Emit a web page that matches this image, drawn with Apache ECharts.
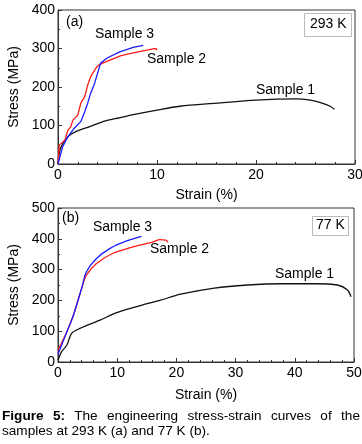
<!DOCTYPE html>
<html lang="en">
<head>
	<meta charset="UTF-8">
	<title>Stress-strain curves</title>
	<style type="text/css">
		body { margin: 0; background: #fff; }
		#main { position: absolute; left: 0; top: 0; width: 362px; height: 444px; }
		#caption {
			position: absolute; left: 2px; top: 409px; width: 358px;
			font-family: "Liberation Sans", Arial, sans-serif;
			font-size: 13.6px; line-height: 14.5px; color: #000;
			text-align: justify;
		}
	</style>
</head>
<body>
	<div id="main"></div>
	<div id="caption"><b>Figure 5:</b> The engineering stress-strain curves of the samples at 293 K (a) and 77 K (b).</div>
	<script type="text/javascript" src="https://cdn.jsdelivr.net/npm/echarts@6/dist/echarts.min.js"></script>
	<script type="text/javascript">
		// (a) 293 K, [strain %, stress MPa]
		var sample1A = [[0,0],[0.2,36],[0.5,54],[1,71],[1.8,84],[3.2,97],[4.8,112],[6.2,120],[7.6,128],[10,140],[12.3,150],[16,158],[20,166],[24,169],[25.5,166],[26.6,159],[27.5,150],[27.9,142]];
		var sample2A = [[0,0],[0.07,23],[0.13,49],[0.7,62],[1,88],[1.3,97],[1.5,114],[2,127],[2.3,158],[2.7,175],[3,205],[3.3,227],[3.7,244],[4,255],[4.5,262],[5.25,270],[6.3,281],[6.9,285],[8.6,294],[9.6,299],[9.9,300],[10,296]];
		var sample3A = [[0,0],[0.2,19],[0.47,45],[1,71],[1.65,93],[2.3,110],[2.7,136],[3,158],[3.3,184],[3.7,210],[4,236],[4.3,262],[4.7,270],[5,276],[6.3,292],[7.6,303],[8.6,308]];

		// (b) 77 K
		var sample1B = [[0,6],[0.6,33],[1.5,55],[2.3,93],[3.7,109],[7.1,136],[9.9,160],[13.9,183],[17.2,200],[20.7,220],[26.4,240],[32,250],[37.7,254],[43.3,254],[47.2,250],[48.9,234],[49.5,212]];
		var sample2B = [[0,38],[1.5,98],[2.6,152],[4,239],[4.8,282],[6.5,320],[9.3,353],[12.7,374],[16.1,390],[17.2,397],[18.2,396],[18.6,388]];
		var sample3B = [[0,25],[1.5,98],[2.6,152],[4,240],[4.8,293],[6.5,336],[8.8,369],[11.6,393],[13.9,407],[14.1,408]];

		var xMaxA = 30, yMaxA = 400;
		var xMaxB = 50, yMaxB = 500;

		var FONT = '"Liberation Sans", Arial, sans-serif';
		var AXIS_COLOR = '#333';

		function xAxisOpt(idx, max) {
			return {
				type: 'value', gridIndex: idx, min: 0, max: max, interval: 10,
				name: 'Strain (%)', nameLocation: 'middle', nameGap: idx === 0 ? 24 : 26,
				nameTextStyle: { fontFamily: FONT, fontSize: 14, color: '#000' },
				axisLine: { lineStyle: { color: AXIS_COLOR } },
				axisTick: { inside: true, length: 4, lineStyle: { color: AXIS_COLOR } },
				minorTick: { show: true, splitNumber: 5, length: 2, lineStyle: { color: AXIS_COLOR } },
				axisLabel: { fontFamily: FONT, fontSize: 14, color: '#000', margin: 4 },
				splitLine: { show: false }
			};
		}

		function yAxisOpt(idx, max) {
			return {
				type: 'value', gridIndex: idx, min: 0, max: max, interval: 100,
				name: 'Stress (MPa)', nameLocation: 'middle', nameGap: 36,
				nameTextStyle: { fontFamily: FONT, fontSize: 14, color: '#000' },
				axisLine: { show: true, lineStyle: { color: AXIS_COLOR } },
				axisTick: { inside: true, length: 4, lineStyle: { color: AXIS_COLOR } },
				minorTick: { show: true, splitNumber: 2, length: 2, lineStyle: { color: AXIS_COLOR } },
				axisLabel: { fontFamily: FONT, fontSize: 14, color: '#000', margin: 3 },
				splitLine: { show: false }
			};
		}

		function line(idx, data, color, smooth) {
			return {
				type: 'line', xAxisIndex: idx, yAxisIndex: idx, data: data,
				showSymbol: false, smooth: smooth, animation: false,
				lineStyle: { color: color, width: 1.3 }
			};
		}

		function label(x, y, text) {
			return {
				type: 'text', left: x, top: y,
				style: { text: text, font: '14px ' + FONT, fill: '#000' }
			};
		}

		var chart = echarts.init(document.getElementById('main'));
		chart.setOption({
			animation: false,
			grid: [
				{ left: 58, top: 10, width: 297, height: 154, show: true, borderColor: AXIS_COLOR, borderWidth: 1, outerBoundsMode: 'none' },
				{ left: 58, top: 208, width: 296, height: 154, show: true, borderColor: AXIS_COLOR, borderWidth: 1, outerBoundsMode: 'none' }
			],
			xAxis: [xAxisOpt(0, xMaxA), xAxisOpt(1, xMaxB)],
			yAxis: [yAxisOpt(0, yMaxA), yAxisOpt(1, yMaxB)],
			series: [
				line(0, sample1A, '#111', 0.3),
				line(0, sample2A, '#ff1a1a', false),
				line(0, sample3A, '#1a1aff', false),
				line(1, sample1B, '#111', 0.3),
				line(1, sample2B, '#ff1a1a', 0.3),
				line(1, sample3B, '#1a1aff', 0.3)
			],
			graphic: [
				label(66, 15, '(a)'),
				label(95, 27, 'Sample 3'),
				label(147, 52, 'Sample 2'),
				label(256, 83, 'Sample 1'),
				{ type: 'rect', shape: { x: 304.5, y: 13.5, width: 47, height: 23 }, style: { fill: '#fff', stroke: '#bbb', lineWidth: 1 } },
				label(310, 17, '293 K'),
				label(62, 211, '(b)'),
				label(93, 220, 'Sample 3'),
				label(150, 242, 'Sample 2'),
				label(275, 267, 'Sample 1'),
				{ type: 'rect', shape: { x: 312.5, y: 216.5, width: 36, height: 19 }, style: { fill: '#fff', stroke: '#bbb', lineWidth: 1 } },
				label(316, 218, '77 K')
			]
		});
	</script>
</body>
</html>
